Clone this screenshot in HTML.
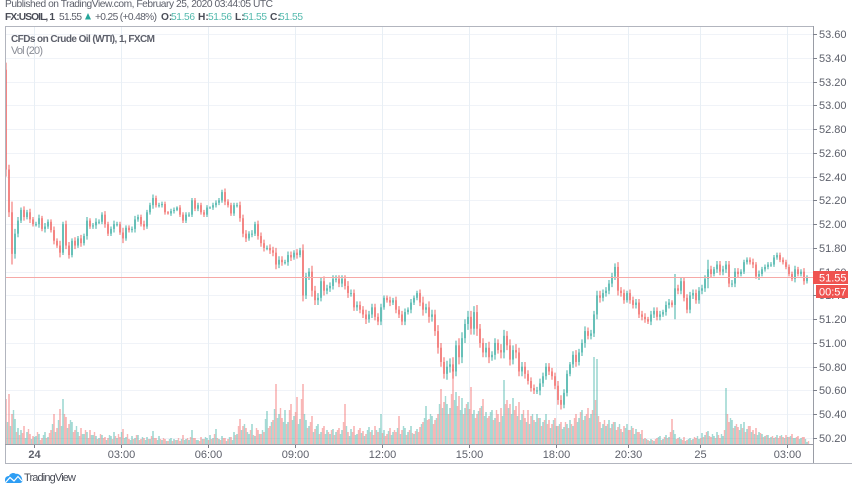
<!DOCTYPE html>
<html lang="en">
<head>
<meta charset="utf-8">
<title>FX:USOIL chart</title>
<style>
html,body{margin:0;padding:0;background:#fff;}
body{width:852px;height:485px;overflow:hidden;}
svg{display:block;font-family:"Liberation Sans",Arial,sans-serif;filter:blur(0.35px);}
</style>
</head>
<body>
<svg id="chart" xmlns="http://www.w3.org/2000/svg" width="852" height="485" viewBox="0 0 852 485">
  <rect x="0" y="0" width="852" height="485" fill="#ffffff"/>
  <g id="grid"></g>
  <g id="volumes"></g>
  <g id="candles"></g>
  <line x1="5" x2="813" y1="277.5" y2="277.5" stroke="#f6a9a7" stroke-width="1"/>
  <g stroke="#b2b5be" fill="none">
    <line x1="5" x2="813" y1="26.5" y2="26.5"/>
    <line x1="5.5" x2="5.5" y1="26" y2="463"/>
    <line x1="813.5" x2="813.5" y1="26" y2="463" stroke="#9a9da6"/>
    <line x1="5" x2="813" y1="444.5" y2="444.5" stroke="#9a9da6"/>
    <line x1="5" x2="852" y1="463.5" y2="463.5"/>
  </g>
  <g id="priceAxis"></g>
  <g id="timeAxis"></g>

  <rect x="813" y="271" width="35" height="13" fill="#ef5350"/>
  <text x="819" y="281.5" font-size="11" fill="#fff">51.55</text>
  <rect x="816" y="285" width="32" height="13" fill="#ef5350"/>
  <text x="819" y="295.5" font-size="11" fill="#fff">00:57</text>

  <text x="5" y="7" font-size="10.2" fill="#5d606b" textLength="268" lengthAdjust="spacing">Published on TradingView.com, February 25, 2020 03:44:05 UTC</text>
  <g font-size="10.2">
    <text x="5" y="20" font-weight="bold" fill="#4a4d57" textLength="50" lengthAdjust="spacing">FX:USOIL, 1</text>
    <text x="59" y="20" fill="#5d606b" textLength="23" lengthAdjust="spacing">51.55</text>
    <polygon points="85,19.5 88,13 91,19.5" fill="#26a69a"/>
    <text x="95" y="20" fill="#5d606b" textLength="62" lengthAdjust="spacing">+0.25 (+0.48%)</text>
    <text x="161" y="20" font-weight="bold" fill="#4a4d57">O:</text>
    <text x="171" y="20" fill="#53b9ad" textLength="24" lengthAdjust="spacing">51.56</text>
    <text x="198" y="20" font-weight="bold" fill="#4a4d57">H:</text>
    <text x="208" y="20" fill="#53b9ad" textLength="24" lengthAdjust="spacing">51.56</text>
    <text x="235" y="20" font-weight="bold" fill="#4a4d57">L:</text>
    <text x="243" y="20" fill="#53b9ad" textLength="24" lengthAdjust="spacing">51.55</text>
    <text x="270" y="20" font-weight="bold" fill="#4a4d57">C:</text>
    <text x="279" y="20" fill="#53b9ad" textLength="24" lengthAdjust="spacing">51.55</text>
  </g>
  <text x="11" y="42" font-size="10" font-weight="bold" fill="#5d606b" textLength="144" lengthAdjust="spacing">CFDs on Crude Oil (WTI), 1, FXCM</text>
  <text x="11" y="54" font-size="11" fill="#8a8d96" textLength="32" lengthAdjust="spacing">Vol (20)</text>

  <g>
    <path d="M5 480 C5 477 7 476 9 476 C10 473 14 472 16 474 C18 473 22 476 22 479 C23 481 22 483 20 483 L8 483 C6 483 5 482 5 480 Z" fill="#2e9ef4"/>
    <path d="M6 482 L10 477.5 L14 481 L18 476.5 L22 481" fill="none" stroke="#fff" stroke-width="1.2"/>
    <text x="24" y="481" font-size="11" fill="#4a4d57" textLength="52" lengthAdjust="spacing">TradingView</text>
  </g>
</svg>
<script>
/* Chart data */
const firstOpen = 53.30;
const closes = [
52.46,52.10,51.75,51.92,52.03,52.12,52.06,52.10,52.04,52.00,
52.00,52.05,51.96,51.98,52.02,51.95,51.86,51.82,51.76,52.00,
51.82,51.74,51.86,51.82,51.88,51.84,51.90,52.03,51.98,51.99,
52.02,52.02,52.08,52.00,51.92,51.96,52.00,52.00,51.93,51.88,
51.97,51.95,51.96,52.04,52.06,52.00,51.98,52.10,52.16,52.22,
52.16,52.16,52.17,52.10,52.09,52.11,52.12,52.14,52.08,52.03,
52.08,52.08,52.20,52.13,52.16,52.10,52.08,52.14,52.14,52.16,
52.18,52.20,52.27,52.19,52.16,52.09,52.16,52.16,52.05,51.92,
51.88,51.92,51.92,52.00,51.90,51.84,51.80,51.80,51.78,51.76,
51.66,51.70,51.68,51.68,51.74,51.72,51.76,51.74,51.78,51.40,
51.56,51.60,51.44,51.36,51.38,51.52,51.44,51.46,51.48,51.54,
51.54,51.50,51.54,51.48,51.42,51.42,51.30,51.32,51.28,51.24,
51.20,51.24,51.30,51.22,51.18,51.30,51.38,51.36,51.34,51.36,
51.28,51.24,51.18,51.26,51.28,51.34,51.38,51.42,51.34,51.28,
51.30,51.22,51.24,51.10,50.96,50.84,50.74,50.80,50.82,50.76,
50.98,50.88,51.04,51.16,51.22,51.12,51.26,51.12,51.00,50.92,
50.96,50.88,50.90,51.00,50.94,50.92,51.06,50.98,50.86,50.94,
50.92,50.76,50.80,50.74,50.68,50.62,50.60,50.60,50.66,50.72,
50.80,50.76,50.72,50.64,50.52,50.48,50.58,50.74,50.82,50.90,
50.84,50.92,51.00,51.10,51.06,51.08,51.24,51.40,51.38,51.42,
51.44,51.50,51.56,51.64,51.44,51.42,51.36,51.42,51.36,51.32,
51.34,51.24,51.22,51.20,51.18,51.24,51.27,51.22,51.24,51.26,
51.32,51.34,51.32,51.46,51.44,51.52,51.38,51.28,51.40,51.42,
51.36,51.44,51.46,51.54,51.62,51.58,51.62,51.66,51.60,51.62,
51.66,51.50,51.50,51.60,51.58,51.60,51.68,51.70,51.68,51.66,
51.56,51.58,51.62,51.64,51.66,51.66,51.72,51.74,51.70,51.68,
51.64,51.58,51.54,51.62,51.58,51.60,51.52,51.55
];
const wicks = [
0.06,0.04,0.09,0.04,0.03,0.02,0.03,0.02,0.03,0.02,
0.02,0.03,0.02,0.03,0.02,0.02,0.03,0.02,0.04,0.02,
0.03,0.03,0.02,0.03,0.02,0.03,0.02,0.03,0.02,0.02,
0.03,0.02,0.02,0.03,0.02,0.02,0.03,0.02,0.02,0.04,
0.02,0.02,0.02,0.03,0.02,0.02,0.03,0.02,0.02,0.03,
0.02,0.02,0.02,0.02,0.01,0.02,0.02,0.01,0.02,0.02,
0.02,0.02,0.02,0.02,0.02,0.02,0.02,0.02,0.01,0.02,
0.02,0.02,0.02,0.03,0.02,0.02,0.02,0.02,0.03,0.03,
0.03,0.02,0.03,0.02,0.03,0.03,0.03,0.02,0.03,0.03,
0.04,0.03,0.03,0.02,0.03,0.03,0.02,0.03,0.02,0.05,
0.03,0.03,0.05,0.04,0.04,0.03,0.04,0.03,0.03,0.03,
0.03,0.03,0.03,0.03,0.04,0.03,0.03,0.03,0.03,0.03,
0.04,0.03,0.03,0.03,0.03,0.03,0.02,0.02,0.03,0.02,
0.03,0.03,0.03,0.03,0.02,0.03,0.02,0.02,0.03,0.05,
0.03,0.05,0.04,0.04,0.05,0.04,0.04,0.05,0.05,0.06,
0.04,0.06,0.05,0.04,0.05,0.05,0.05,0.06,0.04,0.04,
0.04,0.05,0.03,0.04,0.03,0.05,0.05,0.04,0.05,0.04,
0.05,0.04,0.04,0.04,0.03,0.03,0.03,0.03,0.04,0.03,
0.03,0.03,0.03,0.03,0.04,0.04,0.03,0.03,0.02,0.03,
0.04,0.03,0.03,0.04,0.03,0.03,0.03,0.04,0.04,0.03,
0.03,0.03,0.03,0.03,0.04,0.03,0.03,0.02,0.03,0.03,
0.03,0.03,0.03,0.03,0.02,0.03,0.03,0.03,0.03,0.02,
0.03,0.03,0.02,0.12,0.03,0.03,0.03,0.03,0.03,0.03,
0.03,0.03,0.03,0.03,0.08,0.03,0.02,0.03,0.03,0.03,
0.03,0.03,0.03,0.03,0.03,0.02,0.02,0.02,0.02,0.03,
0.02,0.03,0.02,0.02,0.02,0.02,0.02,0.02,0.02,0.02,
0.02,0.02,0.02,0.03,0.02,0.02,0.03,0.02
];
const volumes = [
45,50,30,25,16,14,18,12,10,8,
8,10,6,12,7,14,30,16,35,45,
27,20,22,14,12,16,10,12,14,9,
8,6,9,7,6,8,12,6,7,15,
7,5,8,6,9,5,6,7,5,13,
6,8,4,5,3,6,5,4,3,9,
5,4,14,6,4,7,5,6,9,6,
15,5,8,6,5,7,12,10,25,18,
16,10,20,8,14,10,12,33,18,24,
60,30,26,34,22,40,28,47,25,60,
24,18,28,15,20,12,18,14,10,15,
12,16,14,40,12,15,18,10,16,13,
10,17,14,18,12,30,14,10,16,12,
12,28,14,16,12,18,10,15,17,22,
38,25,28,24,30,55,42,40,36,75,
52,48,46,36,42,57,34,30,36,45,
32,28,34,26,30,36,64,44,40,46,
38,42,30,26,34,28,24,30,26,22,
30,24,20,26,18,22,17,20,24,18,
30,26,34,28,36,30,87,85,22,20,
18,24,20,22,17,15,18,20,14,16,
15,12,14,6,4,5,3,6,8,5,
9,7,25,10,6,5,7,4,6,5,
6,5,11,9,13,7,8,12,6,8,
56,22,24,18,17,20,22,15,18,14,
16,12,10,8,9,7,6,9,8,7,
9,7,10,6,8,6,7,2
];
/* the in-between minute bars, half a step to the right of each bar above */
const volumesBetween = [
22,18,34,12,9,11,6,15,5,7,
12,4,9,6,11,20,12,24,18,30,
16,24,12,18,8,10,14,6,9,12,
5,10,6,4,9,5,8,10,12,6,
10,4,5,9,4,7,4,5,8,6,
4,5,6,3,5,3,4,6,5,4,
6,7,6,4,3,5,7,4,5,10,
6,4,6,3,7,4,9,18,14,20,
12,14,9,16,10,14,25,16,22,35,
26,36,22,20,34,24,32,20,45,30,
16,22,12,18,10,16,10,12,14,9,
14,10,22,18,8,12,9,14,11,8,
14,12,9,14,16,11,8,13,9,14,
16,10,18,9,14,11,13,12,20,26,
24,30,20,26,40,36,48,30,50,44,
38,34,30,40,35,30,26,33,38,28,
26,32,24,34,22,28,40,36,30,34,
28,24,34,22,20,30,22,26,18,24,
20,16,24,18,20,15,22,16,20,26,
22,32,24,30,26,34,44,28,16,24,
20,16,22,14,20,12,16,14,18,10,
12,10,5,5,3,4,5,7,4,7,
6,12,14,5,7,4,3,5,4,7,
8,6,7,12,8,10,6,9,10,14,
30,26,16,20,14,16,12,18,12,10,
9,11,7,9,6,8,7,6,9,6,
7,8,6,7,5,7,5,3
];
const priceTicks = ["53.60","53.40","53.20","53.00","52.80","52.60","52.40","52.20","52.00","51.80","51.60","51.40","51.20","51.00","50.80","50.60","50.40","50.20"];
const timeLabels = ["24","03:00","06:00","09:00","12:00","15:00","18:00","20:30","25","03:00"];
const timeTickBars = [9.5,38.5,67.5,96.5,125.5,154.5,183.5,207.5,231.5,260.5];
const boldTimeLabels = ["24"];

const SVGNS = "http://www.w3.org/2000/svg";
function xBar(i){ return 6 + 3 * i; }
function yPrice(p){ return 438 - (p - 50.2) * 118.8; }
function yVolume(v){ return 444 - v; }
function make(tag, parent){ const el = document.createElementNS(SVGNS, tag); parent.appendChild(el); return el; }
function lineEl(parent, x1, y1, x2, y2, color){
  const el = make("line", parent);
  el.setAttribute("x1", x1); el.setAttribute("y1", y1);
  el.setAttribute("x2", x2); el.setAttribute("y2", y2);
  el.setAttribute("stroke", color);
  return el;
}
const grid = document.getElementById("grid");
const priceAxis = document.getElementById("priceAxis");
const timeAxis = document.getElementById("timeAxis");
const volG = document.getElementById("volumes");
const candleG = document.getElementById("candles");

priceTicks.forEach(function(label){
  const y = Math.round(yPrice(parseFloat(label))) + 0.5;
  const g = lineEl(grid, 6, y, 813, y, "#f0f3f8");
  
  
  const t = lineEl(priceAxis, 813, y, 817, y, "#7d808a");
  
  
  const txt = make("text", priceAxis);
  txt.setAttribute("x", 819);
  txt.setAttribute("y", y + 3.5);
  txt.setAttribute("font-size", "11");
  txt.setAttribute("fill", "#5d606b");
  
  
  txt.textContent = label;
});

timeLabels.forEach(function(label, k){
  const x = xBar(timeTickBars[k]);
  const g = lineEl(grid, x, 27, x, 444, "#e8eff5");
  
  
  const t = lineEl(timeAxis, x, 445, x, 448, "#7d808a");
  
  
  const txt = make("text", timeAxis);
  txt.setAttribute("x", x);
  txt.setAttribute("y", 458);
  txt.setAttribute("font-size", "11");
  txt.setAttribute("text-anchor", "middle");
  txt.setAttribute("fill", "#5d606b");
  if (boldTimeLabels.indexOf(label) !== -1) txt.setAttribute("font-weight", "bold");
  
  
  txt.textContent = label;
});

closes.forEach(function(close, i){
  const open = i === 0 ? firstOpen : closes[i - 1];
  const up = close >= open;
  const color = up ? "#26a69a" : "#ef5350";
  const altColor = up ? "#ef5350" : "#26a69a";
  const x = xBar(i);

  const bar = make("rect", volG);
  bar.setAttribute("x", x - 0.7);
  bar.setAttribute("width", 1.4);
  bar.setAttribute("y", yVolume(volumes[i]));
  bar.setAttribute("height", 444 - yVolume(volumes[i]));
  bar.setAttribute("fill", color);
  bar.setAttribute("fill-opacity", "0.5");
  
  

  const bar2 = make("rect", volG);
  bar2.setAttribute("x", x + 0.8);
  bar2.setAttribute("width", 1.4);
  bar2.setAttribute("y", yVolume(volumesBetween[i]));
  bar2.setAttribute("height", 444 - yVolume(volumesBetween[i]));
  bar2.setAttribute("fill", altColor);
  bar2.setAttribute("fill-opacity", "0.42");
  
  

  const hi = Math.max(open, close) + wicks[i];
  const lo = Math.min(open, close) - wicks[i];
  const wick = lineEl(candleG, x, yPrice(hi), x, yPrice(lo), color);
  wick.setAttribute("stroke-width", "0.9");
  
  

  const body = make("rect", candleG);
  const top = yPrice(Math.max(open, close));
  const bot = yPrice(Math.min(open, close));
  body.setAttribute("x", x - 0.7);
  body.setAttribute("width", 1.4);
  body.setAttribute("y", top);
  body.setAttribute("height", Math.max(1, bot - top));
  body.setAttribute("fill", color);
  
  
});
</script>
</body>
</html>
